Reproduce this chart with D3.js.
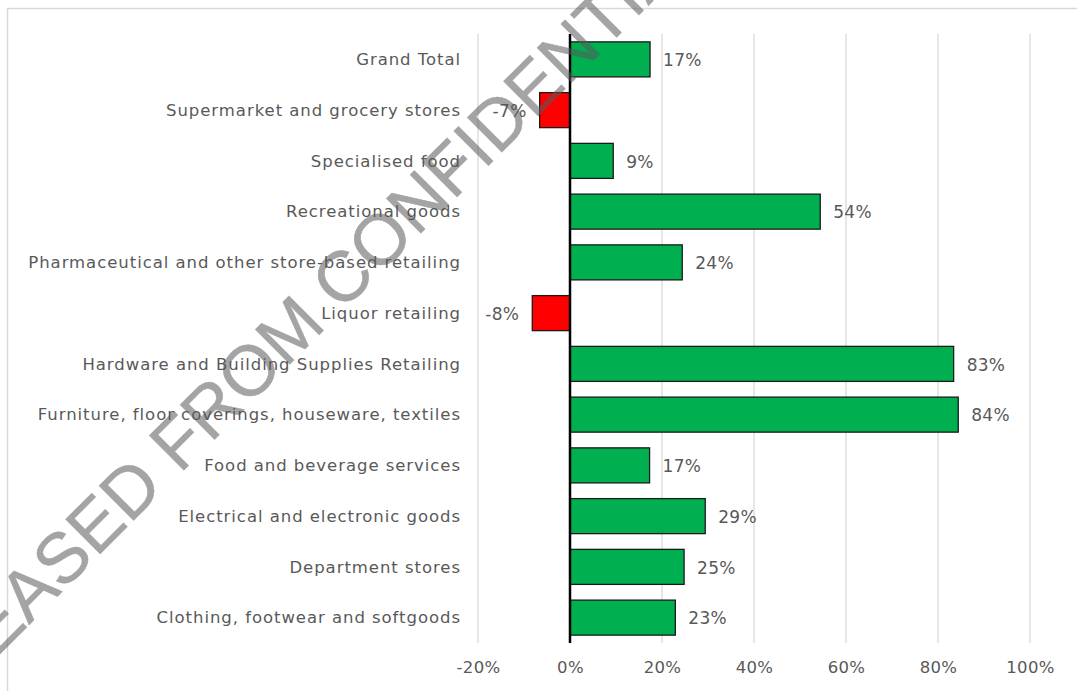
<!DOCTYPE html>
<html>
<head>
<meta charset="utf-8">
<script src="https://cdn.jsdelivr.net/npm/d3@7"></script>
<style>
  html, body { margin: 0; padding: 0; background: #fff; }
  svg text { font-family: "DejaVu Sans", sans-serif; }
</style>
</head>
<body>
<svg id="chart"></svg>
<script>
const w = 1077;
const h = 691;

const categories = [
  "Grand Total",
  "Supermarket and grocery stores",
  "Specialised food",
  "Recreational goods",
  "Pharmaceutical and other store-based retailing",
  "Liquor retailing",
  "Hardware and Building Supplies Retailing",
  "Furniture, floor coverings, houseware, textiles",
  "Food and beverage services",
  "Electrical and electronic goods",
  "Department stores",
  "Clothing, footwear and softgoods",
];
const growth = [17.4, -6.6, 9.4, 54.4, 24.4, -8.2, 83.4, 84.4, 17.3, 29.4, 24.8, 22.9];
const xTicks = [-20, 0, 20, 40, 60, 80, 100];

const margin = { top: 34, right: 47, bottom: 48, left: 478 };

const svg = d3.select("#chart").attr("width", w).attr("height", h);

// outer frame
svg
  .append("rect")
  .attr("x", 7.5)
  .attr("y", 8.5)
  .attr("width", w)
  .attr("height", h)
  .attr("fill", "#fff")
  .attr("stroke", "#d9d9d9")
  .attr("stroke-width", 1.5);

const xScale = d3
  .scaleLinear()
  .domain([-20, 100])
  .range([margin.left, w - margin.right]);

const yScale = d3
  .scaleBand()
  .domain(categories)
  .range([margin.top, h - margin.bottom])
  .paddingInner(0.31)
  .paddingOuter(0.155);

// gridlines
svg
  .append("g")
  .selectAll("line")
  .data(xTicks)
  .enter()
  .append("line")
  .attr("x1", (d) => xScale(d))
  .attr("x2", (d) => xScale(d))
  .attr("y1", margin.top)
  .attr("y2", h - margin.bottom)
  .attr("stroke", "#d9d9d9")
  .attr("stroke-width", 1.3);

// x axis labels
const xAxis = d3
  .axisBottom(xScale)
  .tickValues(xTicks)
  .tickSize(0)
  .tickPadding(0)
  .tickFormat((d) => d + "%");
const xg = svg
  .append("g")
  .attr("transform", "translate(0," + (h - margin.bottom + 18) + ")")
  .call(xAxis);
xg.select(".domain").remove();
xg.selectAll("text")
  .attr("fill", "#595959")
  .style("font-size", "16.5px")
  .style("letter-spacing", "0.3px")
  .style("font-family", "'DejaVu Sans', sans-serif");

// bars
svg
  .append("g")
  .selectAll("rect")
  .data(growth)
  .enter()
  .append("rect")
  .attr("x", (d) => xScale(Math.min(0, d)))
  .attr("y", (d, i) => yScale(categories[i]))
  .attr("width", (d) => Math.abs(xScale(d) - xScale(0)))
  .attr("height", yScale.bandwidth())
  .attr("fill", (d) => (d < 0 ? "#ff0000" : "#00b050"))
  .attr("stroke", "#1a1a1a")
  .attr("stroke-width", 1.3);

// category labels
svg
  .append("g")
  .selectAll("text")
  .data(categories)
  .enter()
  .append("text")
  .attr("x", 461)
  .attr("y", (d) => yScale(d) + yScale.bandwidth() / 2)
  .attr("dy", "0.35em")
  .attr("text-anchor", "end")
  .attr("fill", "#595959")
  .style("font-size", "16.5px")
  .style("letter-spacing", "0.95px")
  .text((d) => d);

// value labels
svg
  .append("g")
  .selectAll("text")
  .data(growth)
  .enter()
  .append("text")
  .attr("x", (d) => (d < 0 ? xScale(d) - 13 : xScale(d) + 13))
  .attr("y", (d, i) => yScale(categories[i]) + yScale.bandwidth() / 2)
  .attr("dy", "0.4em")
  .attr("text-anchor", (d) => (d < 0 ? "end" : "start"))
  .attr("fill", "#595959")
  .style("font-size", "17px")
  .style("letter-spacing", "0.3px")
  .text((d) => Math.round(d) + "%");

// zero line
svg
  .append("line")
  .attr("x1", xScale(0))
  .attr("x2", xScale(0))
  .attr("y1", margin.top)
  .attr("y2", h - margin.bottom)
  .attr("stroke", "#000")
  .attr("stroke-width", 2.5);

// watermark
svg
  .append("g")
  .attr("transform", "translate(-4.5,658.5) rotate(-45)")
  .append("text")
  .attr("x", -138)
  .attr("y", 0)
  .attr("fill", "#5a5a5a")
  .attr("stroke", "#5a5a5a")
  .attr("stroke-width", 0.6)
  .attr("opacity", 0.55)
  .style("font-family", "'Liberation Sans', Arial, sans-serif")
  .style("font-size", "71px")
  .text("RELEASED FROM CONFIDENTIAL");
</script>
</body>
</html>
